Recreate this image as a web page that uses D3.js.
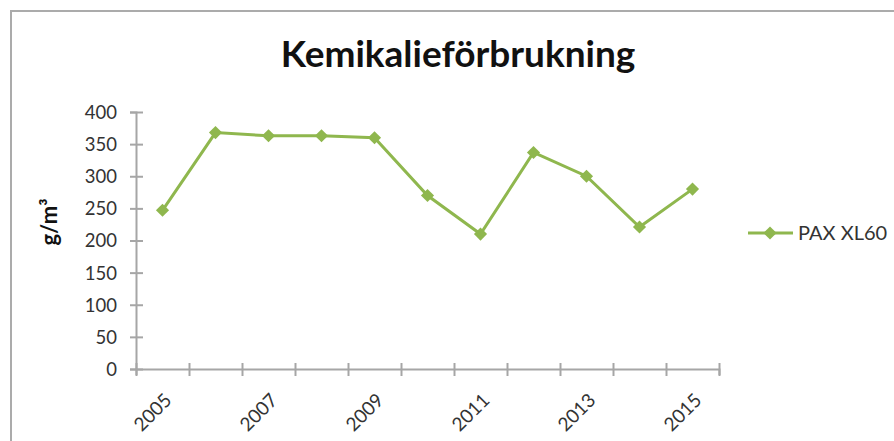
<!DOCTYPE html>
<html>
<head>
<meta charset="utf-8">
<script src="https://cdn.jsdelivr.net/npm/d3@7"></script>
<style>
  body { margin: 0; background: #fff; }
  text { font-family: Lato, "Open Sans", sans-serif; fill: #333; }
</style>
</head>
<body>
<div id="chart"></div>
<script>
const years = ["2005", "2006", "2007", "2008", "2009", "2010", "2011", "2012", "2013", "2014", "2015"];
const paxValues = [247, 368, 363, 363, 360, 270, 210, 337, 300, 221, 280];
const yTicks = [0, 50, 100, 150, 200, 250, 300, 350, 400];
const labelYears = ["2005", "2007", "2009", "2011", "2013", "2015"];
const seriesName = "PAX XL60";

const svg = d3.select("#chart")
    .append("svg")
    .attr("width", 894)
    .attr("height", 441);

// frame of the chart area
svg.append("path")
    .attr("d", "M11,441 L11,11 L894,11")
    .attr("fill", "none")
    .attr("stroke", "#ababab")
    .attr("stroke-width", 2);

const x = d3.scaleBand()
    .domain(years)
    .range([136, 719]);

const xEdges = d3.scaleLinear()
    .domain([0, years.length])
    .range([136, 719]);

const y = d3.scaleLinear()
    .domain([0, 400])
    .range([369, 112]);

const green = "#8fb74e";
const axisColor = "#a6a6a6";

svg.append("text")
    .attr("x", 458)
    .attr("y", 67)
    .attr("text-anchor", "middle")
    .style("font-size", "37px")
    .style("font-weight", "bold")
    .style("fill", "#111")
    .text("Kemikalieförbrukning");

// y axis
const yAxis = svg.append("g")
    .attr("transform", "translate(136,0)")
    .call(d3.axisLeft(y).tickValues(yTicks).tickSize(6).tickPadding(13));

yAxis.selectAll(".tick line").attr("x1", 7).attr("x2", -6);
yAxis.selectAll(".tick text")
    .style("font-size", "18.5px")
    .attr("dy", "0.35em");

// x axis, ticks between categories
const xAxis = svg.append("g")
    .attr("transform", "translate(0,369)")
    .call(d3.axisBottom(xEdges).ticks(years.length).tickFormat(""));

xAxis.selectAll(".tick line").attr("y1", -6).attr("y2", 7);

svg.selectAll(".domain, .tick line")
    .attr("stroke", axisColor)
    .attr("stroke-width", 2);

svg.selectAll(".x-label")
    .data(labelYears)
    .enter()
    .append("text")
    .attr("class", "x-label")
    .attr("text-anchor", "end")
    .style("font-size", "19px")
    .attr("transform", d => "translate(" + (x(d) + x.bandwidth() / 2 + 1) + ",392) rotate(-45)")
    .attr("dy", "0.7em")
    .text(d => d);

svg.append("text")
    .attr("transform", "translate(57,222) rotate(-90)")
    .attr("text-anchor", "middle")
    .style("font-size", "22px")
    .style("font-weight", "bold")
    .style("fill", "#111")
    .text("g/m³");

// series
const points = years.map((d, i) => [x(d) + x.bandwidth() / 2, y(paxValues[i])]);

svg.append("path")
    .attr("d", d3.line()(points))
    .attr("fill", "none")
    .attr("stroke", green)
    .attr("stroke-width", 3);

const diamond = d3.symbol().type(d3.symbolDiamond2).size(110);

svg.selectAll(".marker")
    .data(points)
    .enter()
    .append("path")
    .attr("class", "marker")
    .attr("d", diamond)
    .attr("transform", d => "translate(" + d[0] + "," + d[1] + ")")
    .attr("fill", green);

// legend
const legend = svg.append("g").attr("transform", "translate(748,233)");

legend.append("line")
    .attr("x1", 0).attr("x2", 45)
    .attr("stroke", green)
    .attr("stroke-width", 3);

legend.append("path")
    .attr("d", diamond)
    .attr("transform", "translate(22,0)")
    .attr("fill", green);

legend.append("text")
    .attr("x", 50)
    .attr("dy", "0.35em")
    .style("font-size", "20px")
    .text(seriesName);
</script>
</body>
</html>
